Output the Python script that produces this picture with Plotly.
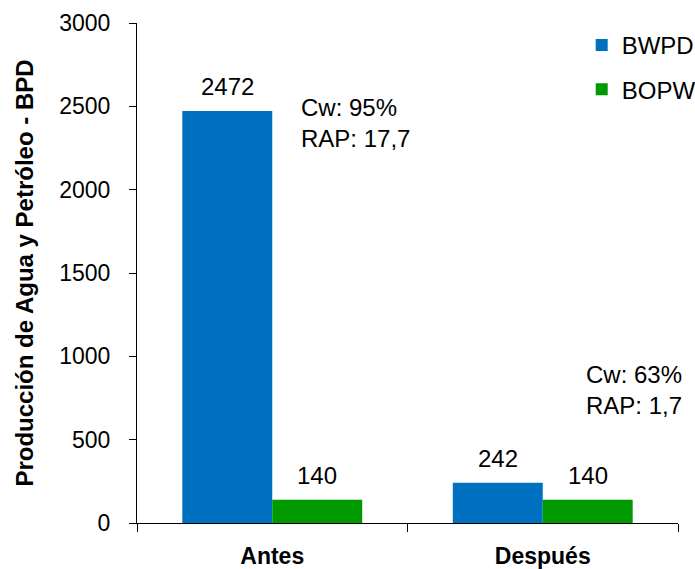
import plotly.graph_objects as go

categories = ["Antes", "Después"]
bwpd = [2472, 242]
bopw = [140, 140]
series_names = ["BWPD", "BOPW"]
notes = ["Cw: 95%<br>RAP: 17,7", "Cw: 63%<br>RAP: 1,7"]
y_ticks = [0, 500, 1000, 1500, 2000, 2500, 3000]

FONT = "Arial, Liberation Sans, sans-serif"
colors = ["#0070C0", "#009900"]
bargap = 0.335

fig = go.Figure()
for name, vals, col in zip(series_names, [bwpd, bopw], colors):
    fig.add_trace(go.Bar(x=categories, y=vals, name=name, marker_color=col,
                         marker_line_width=0, legendgroup=name))

# value labels above bars
half = (1 - bargap) / 2
for j, vals in enumerate([bwpd, bopw]):
    for i, v in enumerate(vals):
        fig.add_annotation(x=i + (j - 0.5) * half, y=v, xref="x", yref="y",
                           text=str(v), showarrow=False, yanchor="bottom",
                           yshift=9, font=dict(size=24, color="black", family=FONT))

# notes
fig.add_annotation(x=0.2994, y=0.862, xref="paper", yref="paper", text=notes[0],
                   showarrow=False, xanchor="left", yanchor="top", align="left",
                   font=dict(size=24, color="black", family=FONT))
fig.add_annotation(x=0.826, y=0.328, xref="paper", yref="paper", text=notes[1],
                   showarrow=False, xanchor="left", yanchor="top", align="left",
                   font=dict(size=24, color="black", family=FONT))

fig.update_layout(
    width=695, height=569,
    margin=dict(l=137, r=17, t=23, b=46, autoexpand=False),
    paper_bgcolor="white", plot_bgcolor="white",
    barmode="group", bargap=bargap, bargroupgap=0,
    font=dict(family=FONT, color="black", size=23),
    legend=dict(x=0.822, y=1.0, xanchor="left", yanchor="top",
                font=dict(size=24, family=FONT), tracegroupgap=10,
                bgcolor="rgba(0,0,0,0)"),
    showlegend=True,
)
fig.update_xaxes(showline=True, linecolor="black", linewidth=1,
                 ticks="outside", ticklen=8, tickcolor="black", tickson="boundaries",
                 tickfont=dict(size=23, family=FONT), showgrid=False,
                 tickprefix="<b>", ticksuffix="</b>", ticklabelstandoff=12)
fig.update_yaxes(range=[0, 3000], tickvals=y_ticks, showline=True, linecolor="black",
                 linewidth=1, ticks="outside", ticklen=7, tickcolor="black",
                 showgrid=False, zeroline=False, tickfont=dict(size=23, family=FONT),
                 ticklabelstandoff=14,
                 title=dict(text="<b>Producción de Agua y Petróleo - BPD</b>",
                            font=dict(size=24, family=FONT), standoff=18))

# remove the default 8px page margin so the figure fills the window exactly
fig.write_html("out.html", config={"displayModeBar": False},
               post_script="document.body.style.margin='0';document.body.style.overflow='hidden';")
